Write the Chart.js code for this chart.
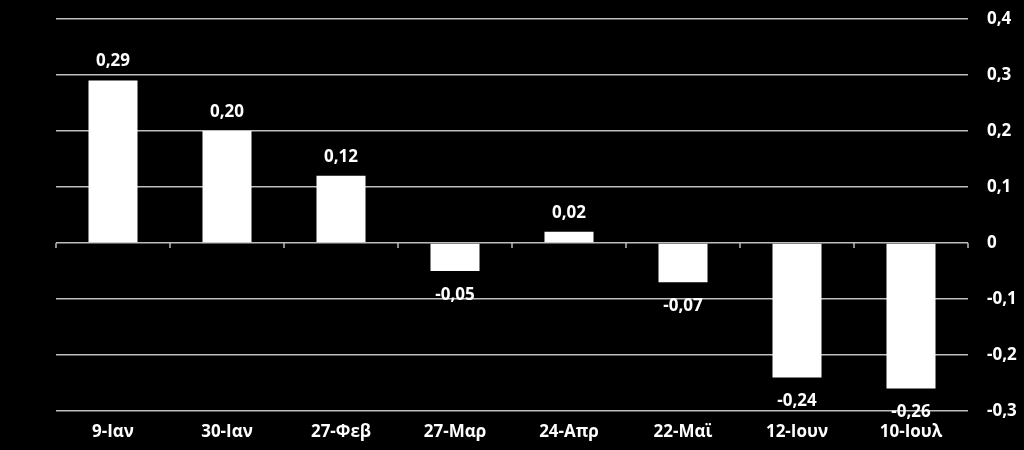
<!DOCTYPE html>
<html>
<head>
<meta charset="utf-8">
<script src="https://cdn.jsdelivr.net/npm/chart.js@4"></script>
<style>
  html, body { margin: 0; padding: 0; background: #000; }
  #wrap { width: 1024px; height: 450px; }
</style>
</head>
<body>
<div id="wrap"><canvas id="myChart"></canvas></div>
<script>
const labels = ['9-Ιαν', '30-Ιαν', '27-Φεβ', '27-Μαρ', '24-Απρ', '22-Μαϊ', '12-Ιουν', '10-Ιουλ'];
const values = [0.29, 0.20, 0.12, -0.05, 0.02, -0.07, -0.24, -0.26];
const yMin = -0.3;
const yMax = 0.4;
const yStep = 0.1;

const fontFamily = '"Open Sans", Lato, sans-serif';
const gridColor = '#bdbdbd';

const comma = (v, d) => v.toFixed(d).replace('.', ',');

// value labels above / below each bar
const barLabels = {
    id: 'barLabels',
    afterDatasetsDraw(chart) {
        const ctx = chart.ctx;
        const meta = chart.getDatasetMeta(0);
        ctx.save();
        ctx.fillStyle = '#fff';
        ctx.font = 'bold 17px ' + fontFamily;
        ctx.textAlign = 'center';
        ctx.textBaseline = 'middle';
        meta.data.forEach((bar, i) => {
            const v = values[i];
            const y = v >= 0 ? bar.y - 19 : bar.y + 24;
            ctx.fillText(comma(v, 2), bar.x, y);
        });
        ctx.restore();
    }
};

// little tick marks on the zero line between categories
const zeroTicks = {
    id: 'zeroTicks',
    beforeDatasetsDraw(chart) {
        const ctx = chart.ctx;
        const x = chart.scales.x;
        const y0 = chart.scales.y.getPixelForValue(0);
        const step = (x.right - x.left) / labels.length;
        ctx.save();
        ctx.strokeStyle = gridColor;
        ctx.lineWidth = 1.5;
        ctx.beginPath();
        for (let k = 0; k <= labels.length; k++) {
            const px = x.left + step * k;
            ctx.moveTo(px, y0);
            ctx.lineTo(px, y0 + 5);
        }
        ctx.stroke();
        ctx.restore();
    }
};

const chart = document.getElementById('myChart').getContext('2d');
const myChart = new Chart(chart, {
    type: 'bar',
    data: {
        labels: labels,
        datasets: [{
            data: values,
            backgroundColor: '#ffffff',
            borderWidth: 0,
            categoryPercentage: 1,
            barPercentage: 0.43
        }]
    },
    options: {
        responsive: true,
        maintainAspectRatio: false,
        animation: false,
        layout: { padding: { left: 56, top: 19, right: 0, bottom: 0 } },
        plugins: {
            legend: { display: false },
            tooltip: { enabled: false }
        },
        scales: {
            x: {
                grid: { display: false, drawTicks: false },
                border: { display: false },
                ticks: {
                    color: '#fff',
                    padding: 11,
                    maxRotation: 0,
                    font: { family: fontFamily, size: 17, weight: 'bold' }
                },
                afterFit(scale) { scale.height = 39; }
            },
            y: {
                position: 'right',
                min: yMin,
                max: yMax,
                grid: { color: gridColor, lineWidth: 1.5, drawTicks: false },
                border: { display: false },
                ticks: {
                    stepSize: yStep,
                    color: '#fff',
                    padding: 19,
                    font: { family: fontFamily, size: 17, weight: 'bold' },
                    callback: v => Math.abs(v) < 1e-9 ? '0' : comma(v, 1)
                },
                afterFit(scale) {
                    scale.width = 56;
                    scale.paddingTop = 0;
                    scale.paddingBottom = 0;
                }
            }
        }
    },
    plugins: [barLabels, zeroTicks]
});
</script>
</body>
</html>
